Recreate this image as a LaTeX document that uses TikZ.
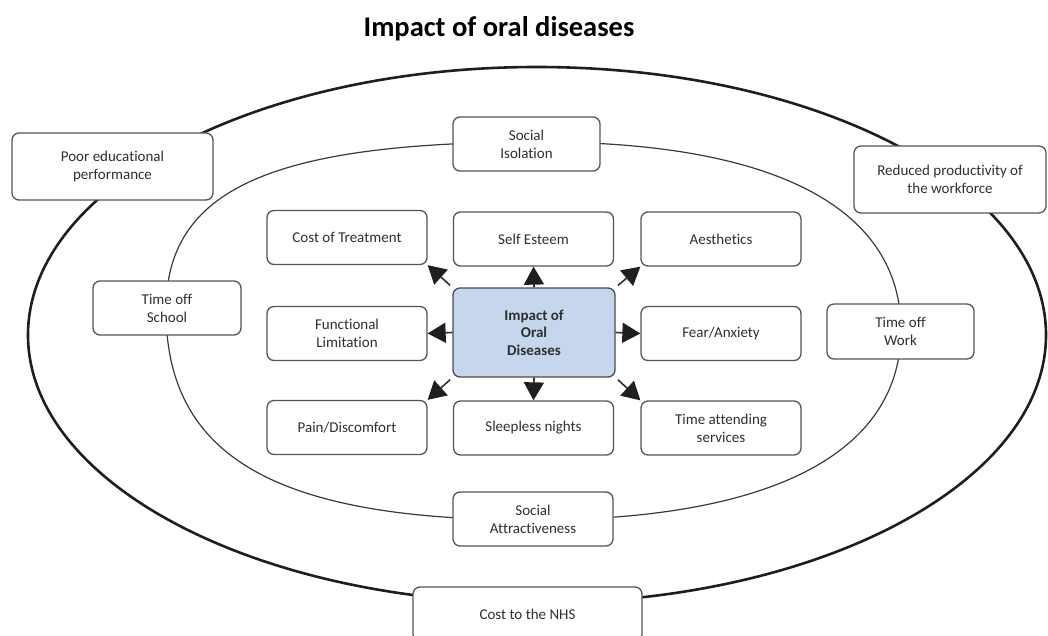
\documentclass[tikz,border=0pt]{standalone}
\usepackage{fontspec}
\setmainfont{Carlito}[Ligatures=NoCommon]
\usetikzlibrary{arrows.meta}
\definecolor{boxline}{HTML}{555555}
\definecolor{txt}{HTML}{2F2F2F}
\definecolor{cfill}{HTML}{C6D6EC}
\definecolor{ring}{HTML}{1E1E1E}
\definecolor{innerring}{HTML}{3A3A3A}
\begin{document}
\begin{tikzpicture}[x=1pt,y=-1pt,
  box/.style={draw=boxline, line width=1.3pt, rounded corners=7pt, fill=white,
    align=center, inner sep=0pt, text=txt, font=\fontsize{15}{18}\selectfont},
  midbox/.style={box, minimum width=160pt, minimum height=54pt},
  arr/.style={draw=txt, line width=1.6pt,
    -{Triangle[length=18pt,width=20pt,fill=black!88,color=black!88]}},
  diag/.style={arr, shorten <=3pt}]
\useasboundingbox (0,0) rectangle (1048,636);
\clip (0,0) rectangle (1048,636);

% title
\node[anchor=base, font=\fontsize{28.5}{34}\selectfont\bfseries, text=black] (title) at (499,36.7) {Impact of oral diseases};

% outer ring
\draw[draw=ring, line width=2.6pt] (537,335) ellipse [x radius=509pt, y radius=268pt];

% inner ring
\coordinate (iT) at (540,142);
\coordinate (iR) at (901,330);
\coordinate (iB) at (533,520);
\coordinate (iL) at (166,310);
\draw[draw=innerring, line width=1.2pt]
  (iT) .. controls (775,142) and (901,208) .. (iR)
       .. controls (901,453) and (772,520) .. (iB)
       .. controls (276,520) and (166,457) .. (iL)
       .. controls (166,189) and (271,142) .. (iT) -- cycle;

% outer ring boxes
\node[box, minimum width=201pt, minimum height=67pt] (poor) at (112.5,166.5) {Poor educational\\performance};
\node[box, minimum width=192pt, minimum height=67pt] (red) at (950,179.5) {Reduced productivity of\\the workforce};
\node[box, minimum width=229pt, minimum height=54pt] (nhs) at (527.5,614) {Cost to the NHS};

% inner ring boxes
\node[box, minimum width=147pt, minimum height=54pt] (siso) at (526.5,144) {Social\\Isolation};
\node[box, minimum width=148pt, minimum height=54pt] (tos) at (167,308) {Time off\\School};
\node[box, minimum width=147pt, minimum height=55pt] (tow) at (900.5,331.5) {Time off\\Work};
\node[box, minimum width=160pt, minimum height=54pt] (satt) at (533,519) {Social\\Attractiveness};

% central grid
\node[midbox] (ct) at (347,237.5) {Cost of Treatment};
\node[midbox] (se) at (533.5,239) {Self Esteem};
\node[midbox] (ae) at (721,239) {Aesthetics};
\node[midbox] (fl) at (347,333.5) {Functional\\Limitation};
\node[box, minimum width=162pt, minimum height=89pt, fill=cfill, draw=black!70,
      font=\fontsize{15}{17.5}\selectfont\bfseries] (c) at (534,332.5) {Impact of\\Oral\\Diseases};
\node[midbox] (fa) at (721,333.5) {Fear/Anxiety};
\node[midbox] (pd) at (347,427.5) {Pain/Discomfort};
\node[midbox] (sn) at (533.5,428) {Sleepless nights};
\node[midbox] (ta) at (721,428) {Time attending\\services};

% arrows
\draw[arr] (c.north) -- (se.south);
\draw[arr] (c.south) -- (sn.north);
\draw[arr] (c.west) -- (fl.east);
\draw[arr] (c.east) -- (fa.west);
\draw[diag] (c.north west) -- (ct.south east);
\draw[diag] (c.north east) -- (ae.south west);
\draw[diag] (c.south west) -- (pd.north east);
\draw[diag] (c.south east) -- (ta.north west);
\end{tikzpicture}
\end{document}
